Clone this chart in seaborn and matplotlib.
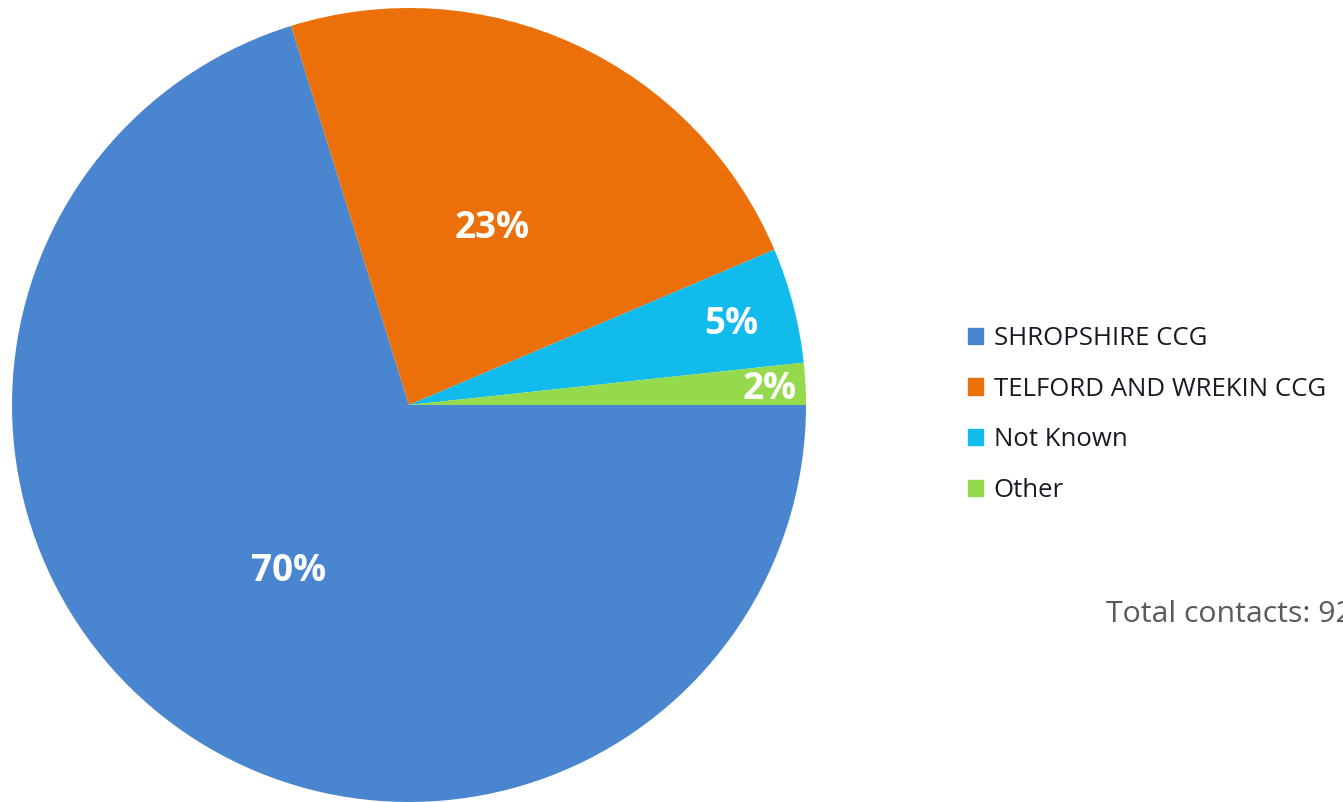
import matplotlib
matplotlib.use('Agg')
import matplotlib.pyplot as plt
import matplotlib.patches as mpatches
import seaborn as sns
import numpy as np

# data
categories = ['SHROPSHIRE CCG', 'TELFORD AND WREKIN CCG', 'Not Known', 'Other']
shares = [70.2, 23.4, 4.7, 1.7]
colours = ['#4A86D0', '#EB7009', '#11BCEC', '#95D94D']
label_radius = [0.51, 0.5, 0.84, 0.91]
total_text = 'Total contacts: 92'


def pie_chart():
    sns.set_theme(style='white')
    plt.rcParams['font.family'] = ['Open Sans', 'DejaVu Sans']

    fig = plt.figure(figsize=(13.43, 8.02), dpi=100)
    ax = fig.add_axes([12 / 1343, 0, 794 / 1343, 794 / 802])

    wedges, _ = ax.pie(shares, colors=colours, startangle=0, counterclock=False,
                       radius=1, wedgeprops=dict(linewidth=0))
    ax.set_xlim(-1, 1)
    ax.set_ylim(-1, 1)
    ax.set_aspect('equal')
    ax.axis('off')

    # percentage labels at the wedge middles
    for w, val, r in zip(wedges, shares, label_radius):
        mid = np.deg2rad((w.theta1 + w.theta2) / 2)
        ax.text(r * np.cos(mid), r * np.sin(mid) - 0.008, '%d%%' % round(val),
                ha='center', va='center', color='white', fontsize=26.5,
                fontweight='bold')

    handles = [mpatches.Patch(color=c) for c in colours]
    fig.legend(handles, categories, loc='upper left',
               bbox_to_anchor=(968 / 1343, 1 - 326 / 802), frameon=False,
               fontsize=18.5, handlelength=0.6, handleheight=0.6,
               handletextpad=0.4, labelspacing=1.0, labelcolor='#1a1a24',
               borderpad=0, borderaxespad=0)

    # the reference clips this text at the right edge
    fig.text(1106 / 1343, 1 - 614 / 802, total_text, fontsize=21.8,
             color='#5a5a5a', ha='left', va='center')

    plt.savefig('out.png', dpi=100)


if __name__ == '__main__':
    pie_chart()
